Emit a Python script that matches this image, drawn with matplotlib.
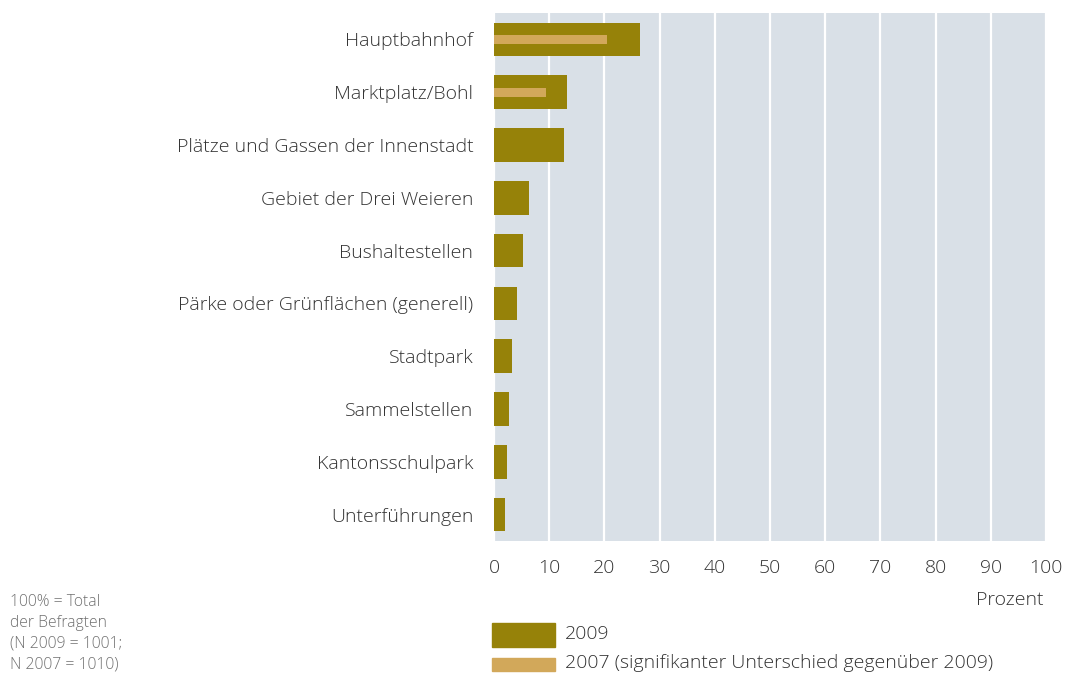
import matplotlib
matplotlib.use("Agg")
import matplotlib.pyplot as plt
from matplotlib.patches import Rectangle

categories = ["Hauptbahnhof", "Marktplatz/Bohl", "Plätze und Gassen der Innenstadt",
              "Gebiet der Drei Weieren", "Bushaltestellen", "Pärke oder Grünflächen (generell)",
              "Stadtpark", "Sammelstellen", "Kantonsschulpark", "Unterführungen"]
values_2009 = [26.4, 13.2, 12.7, 6.3, 5.3, 4.2, 3.3, 2.7, 2.4, 2.0]
values_2007 = [20.5, 9.4, None, None, None, None, None, None, None, None]
xticks = [0, 10, 20, 30, 40, 50, 60, 70, 80, 90, 100]
legend_labels = ["2009", "2007 (signifikanter Unterschied gegenüber 2009)"]
footnote = "100% = Total\nder Befragten\n(N 2009 = 1001;\nN 2007 = 1010)"

C2009 = "#968209"
C2007 = "#D2A85A"
BG = "#D9E0E7"
TXT = "#333333"
FS = 14

plt.rcParams['font.family'] = ['Open Sans', 'DejaVu Sans']

fig = plt.figure(figsize=(10.65, 6.74), dpi=100)
ax = fig.add_axes([494/1065, 1-541/674, 552/1065, 528/674])
ax.set_facecolor(BG)

y = list(range(len(categories)))
ax.barh(y, values_2009, height=0.64, color=C2009, zorder=3)
y07 = [i for i, v in enumerate(values_2007) if v is not None]
v07 = [v for v in values_2007 if v is not None]
ax.barh(y07, v07, height=0.17, color=C2007, zorder=4)

ax.set_xlim(0, 100)
ax.set_ylim(len(categories) - 0.5, -0.5)
ax.set_xticks(xticks)
ax.set_xticklabels([str(t) for t in xticks])
ax.set_yticks(y)
ax.set_yticklabels(categories)
for s in ax.spines.values():
    s.set_visible(False)
ax.tick_params(axis='both', length=0, colors=TXT, labelsize=FS)
ax.tick_params(axis='y', pad=15)
ax.tick_params(axis='x', pad=13)
for lab in ax.get_xticklabels() + ax.get_yticklabels():
    lab.set_fontweight('light')
ax.xaxis.grid(True, color='white', linewidth=1.6, zorder=1)
ax.set_axisbelow(True)

fig.text(1043/1065, 1-600/674, "Prozent", ha='right', va='center', fontsize=FS,
         color=TXT, fontweight='light')

# legend
fig.patches.append(Rectangle((492/1065, 1-647/674), 63/1065, 24/674,
                             transform=fig.transFigure, color=C2009, figure=fig))
fig.patches.append(Rectangle((492/1065, 1-671/674), 63/1065, 13/674,
                             transform=fig.transFigure, color=C2007, figure=fig))
fig.text(565/1065, 1-634/674, legend_labels[0], ha='left', va='center', fontsize=FS,
         color=TXT, fontweight='light')
fig.text(565/1065, 1-663/674, legend_labels[1], ha='left', va='center', fontsize=FS,
         color=TXT, fontweight='light')

fig.text(10/1065, 1-594/674, footnote, ha='left', va='top', fontsize=11.3,
         color="#707070", fontweight='light', linespacing=1.4)

fig.savefig("out.png", dpi=100)
